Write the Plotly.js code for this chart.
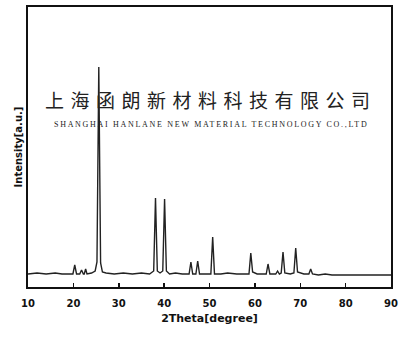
<!DOCTYPE html>
<html>
<head>
<meta charset="utf-8">
<script src="https://cdn.plot.ly/plotly-3.0.1.min.js"></script>
<style>html,body{margin:0;padding:0;background:#fff;}#chart{width:400px;height:338px;}</style>
</head>
<body>
<div id="chart"></div>
<script>
// 2Theta (degree)
var twoTheta = [10, 12, 14, 16, 17.5, 19, 19.9, 20.3, 20.7, 21.4, 21.8, 22.2, 22.4, 22.7, 23.0, 24.0, 24.8, 25.2, 25.6, 26.0, 26.4, 27.2, 29, 31, 33, 35, 36.8, 37.7, 38.1, 38.5, 39.1, 39.7, 40.1, 40.5, 41.2, 42.5, 44, 45.5, 45.9, 46.3, 47.0, 47.4, 47.8, 49, 50.3, 50.7, 51.1, 52.5, 54, 56, 58.3, 58.7, 59.1, 59.5, 60.5, 62.5, 62.9, 63.3, 64.6, 65.0, 65.4, 65.8, 66.2, 66.6, 67.8, 68.6, 69.0, 69.4, 70.8, 71.9, 72.3, 72.7, 74, 75.5, 77, 80, 83, 86, 88, 90];
// Intensity (a.u.)
var intensity = [13, 14, 13, 14, 13, 13, 13, 22, 13, 13, 17, 13, 13, 18, 13, 14, 16, 25, 220, 24, 15, 14, 13, 14, 13, 14, 13, 16, 89, 16, 14, 16, 88, 16, 13, 14, 13, 13, 25, 13, 13, 26, 13, 13, 13, 50, 13, 13, 14, 13, 13, 13, 34, 15, 13, 13, 23, 13, 13, 16, 13, 14, 35, 14, 13, 14, 39, 15, 13, 13, 18, 13, 12, 13, 12, 12, 12, 12, 12, 12];
var xTicks = [10, 20, 30, 40, 50, 60, 70, 80, 90];
var companyCN = "上海函朗新材料科技有限公司";
var companyEN = "SHANGHAI HANLANE NEW MATERIAL TECHNOLOGY CO.,LTD";

var trace = {
  x: twoTheta, y: intensity, type: 'scatter', mode: 'lines',
  line: {color: '#222', width: 1.4}, hoverinfo: 'skip'
};

var layout = {
  width: 400, height: 338,
  margin: {l: 28, r: 9, t: 7, b: 51},
  paper_bgcolor: '#fff', plot_bgcolor: '#fff',
  showlegend: false,
  xaxis: {
    range: [10, 90], tickvals: xTicks, ticktext: xTicks.map(String),
    ticks: 'inside', ticklen: 4, tickwidth: 1.5, tickcolor: '#111',
    showline: true, linecolor: '#111', linewidth: 2, mirror: true,
    showgrid: false, zeroline: false, ticklabelstandoff: 6,
    tickfont: {family: 'DejaVu Sans', size: 10, color: '#111', weight: 'bold'},
    title: {text: '2Theta[degree]', font: {family: 'DejaVu Sans', size: 11, color: '#111', weight: 'bold'}, standoff: 6}
  },
  yaxis: {
    range: [0, 280], showticklabels: false, ticks: '',
    showline: true, linecolor: '#111', linewidth: 2, mirror: true,
    showgrid: false, zeroline: false,
    title: {text: 'Intensity[a.u.]', font: {family: 'DejaVu Sans', size: 10, color: '#111', weight: 'bold'}, standoff: 2}
  },
  annotations: [
    {xref: 'paper', yref: 'paper', x: 0.503, y: 0.668, yanchor: 'middle', showarrow: false,
     text: '<span style="letter-spacing:6.5px">' + companyCN + '</span>',
     font: {family: 'Noto Sans CJK SC', size: 19, color: '#222'}},
    {xref: 'paper', yref: 'paper', x: 0.505, y: 0.582, yanchor: 'middle', showarrow: false,
     text: '<span style="letter-spacing:1.7px">' + companyEN + '</span>',
     font: {family: 'Liberation Serif', size: 8, color: '#222'}}
  ]
};

Plotly.newPlot('chart', [trace], layout, {staticPlot: true, displayModeBar: false});
</script>
</body>
</html>
